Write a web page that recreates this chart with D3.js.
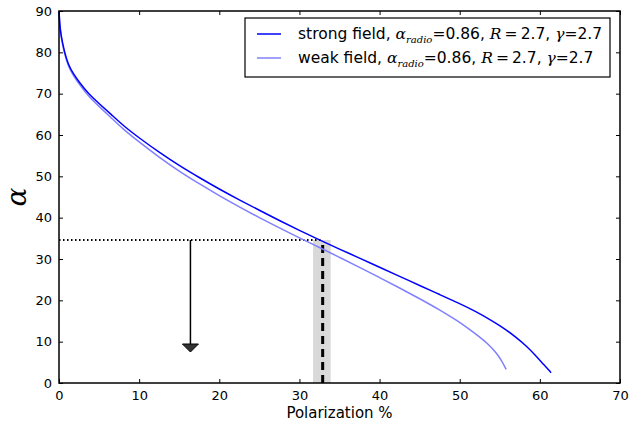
<!DOCTYPE html>
<html>
<head>
<meta charset="utf-8">
<style>
  body { margin: 0; background: #fff; }
  text { font-family: "DejaVu Sans", sans-serif; fill: #000; }
  .math { font-family: "DejaVu Serif", serif; font-style: italic; }
</style>
<script src="https://cdn.jsdelivr.net/npm/d3@7"></script>
</head>
<body>
<div id="chart"></div>
<script>
// polarization (%) vs alpha for the two field cases
const strongP = [0, 0.1, 0.25, 0.41, 0.7, 1.16, 1.8, 2.6, 3.66, 5, 6.5, 8, 10, 12.5, 15, 17.5, 20, 22.5, 25, 27.5, 30, 32.5, 35, 37.5, 40, 42.5, 45, 47.5, 50, 52, 54, 55.5, 57, 58.4, 59.5, 60.5, 61.4];
const strongA = [90, 86.5, 84.3, 82.6, 80.0, 77.0, 74.8, 72.6, 70.0, 67.6, 65.0, 62.3, 59.3, 55.8, 52.6, 49.7, 46.9, 44.3, 41.8, 39.3, 36.9, 34.6, 32.4, 30.2, 28.0, 25.8, 23.6, 21.4, 19.2, 17.3, 15.1, 13.3, 11.1, 8.8, 6.6, 4.4, 2.5];
const weakP = [0, 0.1, 0.25, 0.41, 0.7, 1.16, 1.8, 2.6, 3.66, 5, 6.5, 8, 10, 12.5, 15, 17.5, 20, 22.5, 25, 27.5, 30, 32.5, 35, 37.5, 40, 42.5, 45, 47.5, 49.5, 51, 52.5, 53.5, 54.5, 55.2, 55.8];
const weakA = [90, 86.3, 84.0, 82.2, 79.6, 76.6, 74.3, 72.1, 69.4, 66.9, 64.2, 61.4, 58.3, 54.6, 51.2, 48.2, 45.3, 42.6, 40.0, 37.5, 35.1, 32.8, 30.4, 28.0, 25.5, 23.0, 20.4, 17.7, 15.3, 13.3, 11.1, 9.5, 7.5, 5.5, 3.3];

const xTicks = [0, 10, 20, 30, 40, 50, 60, 70];
const yTicks = [0, 10, 20, 30, 40, 50, 60, 70, 80, 90];

// observed value and its band
const obsP = 32.9, obsLo = 31.7, obsHi = 33.9, obsA = 34.6;
// upper limit arrow
const arrowP = 16.4, arrowTop = 34.6, arrowEnd = 7.5;

const W = 639, H = 425;
const margin = { top: 11, right: 19, bottom: 42, left: 59 };
const width = W - margin.left - margin.right;
const height = H - margin.top - margin.bottom;

const x = d3.scaleLinear().domain([0, 70]).range([0, width]);
const y = d3.scaleLinear().domain([0, 90]).range([height, 0]);

const svg = d3.select('#chart').append('svg')
  .attr('width', W).attr('height', H);
const g = svg.append('g').attr('transform', `translate(${margin.left},${margin.top})`);

// grey band + dashed vertical
g.append('rect')
  .attr('x', x(obsLo)).attr('y', y(obsA))
  .attr('width', x(obsHi) - x(obsLo)).attr('height', y(0) - y(obsA))
  .attr('fill', '#d9d9d9');
g.append('line')
  .attr('x1', x(obsP)).attr('x2', x(obsP)).attr('y1', y(0)).attr('y2', y(obsA))
  .attr('stroke', '#000').attr('stroke-width', 3).attr('stroke-dasharray', '8,5');
g.append('line')
  .attr('x1', x(0)).attr('x2', x(obsP)).attr('y1', y(obsA)).attr('y2', y(obsA))
  .attr('stroke', '#000').attr('stroke-width', 2).attr('stroke-dasharray', '1.5,2.5');

// arrow
const headLen = 8, headHalf = 8;
g.append('line')
  .attr('x1', x(arrowP)).attr('x2', x(arrowP))
  .attr('y1', y(arrowTop)).attr('y2', y(arrowEnd) - headLen)
  .attr('stroke', '#000').attr('stroke-width', 1.5);
g.append('path')
  .attr('d', `M${x(arrowP) - headHalf},${y(arrowEnd) - headLen} L${x(arrowP) + headHalf},${y(arrowEnd) - headLen} L${x(arrowP)},${y(arrowEnd)} Z`)
  .attr('fill', '#333').attr('stroke', '#000').attr('stroke-width', 1);

// curves
const line = d3.line().x(d => x(d[0])).y(d => y(d[1])).curve(d3.curveBasis);
g.append('path').datum(d3.zip(weakP, weakA))
  .attr('d', line).attr('fill', 'none').attr('stroke', '#8080ff').attr('stroke-width', 1.5);
g.append('path').datum(d3.zip(strongP, strongA))
  .attr('d', line).attr('fill', 'none').attr('stroke', '#0000ff').attr('stroke-width', 1.5);

// axes: ticks inward on all sides
const axB = g.append('g').attr('transform', `translate(0,${height})`)
  .call(d3.axisBottom(x).tickValues(xTicks).tickSizeInner(-4).tickSizeOuter(0).tickPadding(8));
const axT = g.append('g')
  .call(d3.axisTop(x).tickValues(xTicks).tickSizeInner(-4).tickSizeOuter(0).tickFormat(''));
const axL = g.append('g')
  .call(d3.axisLeft(y).tickValues(yTicks).tickSizeInner(-4).tickSizeOuter(0).tickPadding(7));
const axR = g.append('g').attr('transform', `translate(${width},0)`)
  .call(d3.axisRight(y).tickValues(yTicks).tickSizeInner(-4).tickSizeOuter(0).tickFormat(''));
[axB, axT, axL, axR].forEach(a => {
  a.select('.domain').remove();
  a.selectAll('.tick line').attr('stroke', '#000');
  a.selectAll('text').attr('font-family', '"DejaVu Sans", sans-serif').attr('font-size', 13).attr('fill', '#000');
});

g.append('rect').attr('width', width).attr('height', height)
  .attr('fill', 'none').attr('stroke', '#000').attr('stroke-width', 1.5);

// axis labels
svg.append('text').attr('x', margin.left + width / 2).attr('y', 418)
  .attr('text-anchor', 'middle').attr('font-size', 15).text('Polarization %');
svg.append('text').attr('class', 'math')
  .attr('transform', `translate(26,${margin.top + height / 2}) rotate(-90)`)
  .attr('text-anchor', 'middle').attr('font-size', 28).text('α');

// legend
const legend = svg.append('g');
legend.append('rect').attr('x', 245).attr('y', 18).attr('width', 365).attr('height', 59)
  .attr('fill', '#fff').attr('stroke', '#000').attr('stroke-width', 1.2);
const entries = [
  { name: 'strong field, ', color: '#0000ff' },
  { name: 'weak field, ', color: '#8080ff' }
];
entries.forEach((e, i) => {
  const cy = 34 + i * 24;
  legend.append('line').attr('x1', 257).attr('x2', 281).attr('y1', cy).attr('y2', cy)
    .attr('stroke', e.color).attr('stroke-width', 1.5);
  const t = legend.append('text').attr('x', 298).attr('y', cy + 5).attr('font-size', 15.5);
  t.append('tspan').text(e.name);
  t.append('tspan').attr('class', 'math').text('α');
  t.append('tspan').attr('class', 'math').attr('font-size', 10).attr('dy', 4).text('radio');
  t.append('tspan').attr('dy', -4).text('=0.86, ');
  t.append('tspan').attr('class', 'math').text('R');
  t.append('tspan').attr('font-family', '"DejaVu Serif", serif').text('\u2009=\u2009');
  t.append('tspan').text('2.7, ');
  t.append('tspan').attr('class', 'math').text('γ');
  t.append('tspan').text('=2.7');
});
</script>
</body>
</html>
